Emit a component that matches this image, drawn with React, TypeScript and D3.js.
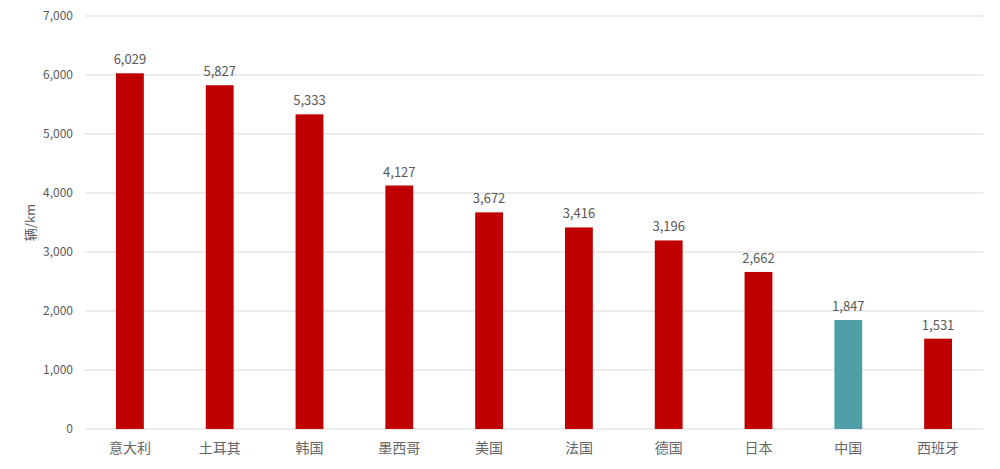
import React, { useEffect, useRef } from 'react';
import * as d3 from 'd3';

const countries = ['意大利', '土耳其', '韩国', '墨西哥', '美国', '法国', '德国', '日本', '中国', '西班牙'];
const values = [6029, 5827, 5333, 4127, 3672, 3416, 3196, 2662, 1847, 1531];
const highlight = ['中国'];
const yTicks = [0, 1000, 2000, 3000, 4000, 5000, 6000, 7000];

const App: React.FC = () => {
  const svgRef = useRef<SVGSVGElement | null>(null);

  useEffect(() => {
    if (!svgRef.current) return;
    const svg = d3.select(svgRef.current);
    svg.selectAll('*').remove();

    const width = 1000;
    const height = 469;
    const margin = { top: 16, right: 17, bottom: 40, left: 85 };
    const textColor = '#595959';
    const font = '"Noto Sans CJK SC", "Noto Sans", sans-serif';

    const x = d3.scaleBand<string>()
      .domain(countries)
      .range([margin.left, width - margin.right])
      .paddingInner(0.69)
      .paddingOuter(0.345);

    const y = d3.scaleLinear()
      .domain([0, 7000])
      .range([height - margin.bottom, margin.top]);

    // gridlines
    svg.append('g')
      .selectAll('line')
      .data(yTicks)
      .join('line')
      .attr('x1', margin.left)
      .attr('x2', width - margin.right)
      .attr('y1', d => y(d))
      .attr('y2', d => y(d))
      .attr('stroke', '#d9d9d9')
      .attr('stroke-width', 1);

    // y tick labels
    svg.append('g')
      .selectAll('text')
      .data(yTicks)
      .join('text')
      .attr('x', margin.left - 12)
      .attr('y', d => y(d))
      .attr('dy', '0.35em')
      .attr('text-anchor', 'end')
      .attr('fill', textColor)
      .attr('font-family', font)
      .attr('font-size', 12)
      .text(d => d3.format(',')(d));

    // bars
    svg.append('g')
      .selectAll('rect')
      .data(countries)
      .join('rect')
      .attr('x', d => x(d)!)
      .attr('width', x.bandwidth())
      .attr('y', (d, i) => y(values[i]))
      .attr('height', (d, i) => y(0) - y(values[i]))
      .attr('fill', d => (highlight.includes(d) ? '#4E9FA6' : '#C00000'));

    // value labels
    svg.append('g')
      .selectAll('text')
      .data(countries)
      .join('text')
      .attr('x', d => x(d)! + x.bandwidth() / 2)
      .attr('y', (d, i) => y(values[i]) - 9)
      .attr('text-anchor', 'middle')
      .attr('fill', textColor)
      .attr('font-family', font)
      .attr('font-size', 13)
      .text((d, i) => d3.format(',')(values[i]));

    // category labels
    svg.append('g')
      .selectAll('text')
      .data(countries)
      .join('text')
      .attr('x', d => x(d)! + x.bandwidth() / 2)
      .attr('y', y(0) + 24)
      .attr('text-anchor', 'middle')
      .attr('fill', '#666')
      .attr('font-family', font)
      .attr('font-size', 14)
      .text(d => d);

    // y axis title
    svg.append('text')
      .attr('transform', `translate(35,${(y(0) + y(7000)) / 2}) rotate(-90)`)
      .attr('text-anchor', 'middle')
      .attr('fill', textColor)
      .attr('font-family', font)
      .attr('font-size', 13)
      .text('辆/km');
  }, []);

  return (
    <svg
      ref={svgRef}
      width={1000}
      height={469}
      style={{ position: 'absolute', left: 0, top: 0, background: '#fff' }}
    />
  );
};

export default App;
